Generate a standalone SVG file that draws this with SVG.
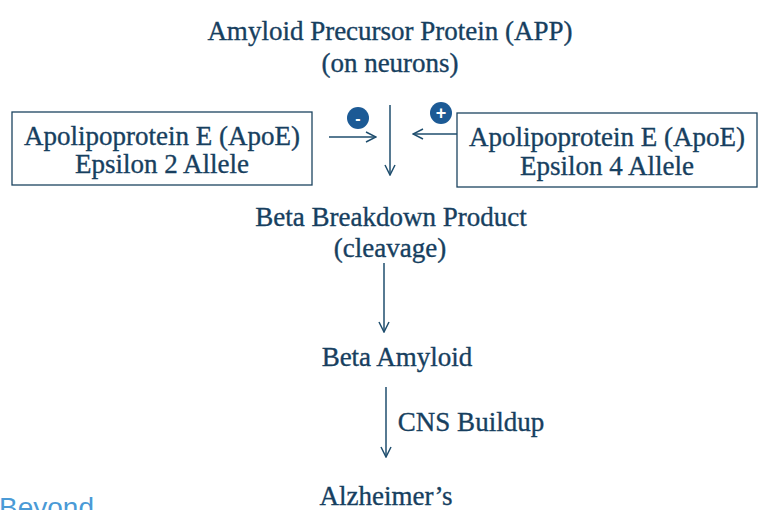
<svg xmlns="http://www.w3.org/2000/svg" width="774" height="510" viewBox="0 0 774 510">
<style>
.t{font-family:"Liberation Serif","DejaVu Serif",serif;font-size:27px;fill:#173f5f;stroke:#173f5f;stroke-width:0.35;text-anchor:middle}
.box{fill:#fff;stroke:#1c4460;stroke-width:1.3}
.c{stroke:#1f4e6e;stroke-width:1.5;fill:none}
.sign{font-family:"Liberation Sans",Arial,sans-serif;font-weight:bold;fill:#fff;text-anchor:middle}
</style>
<defs>
<marker id="ah" viewBox="0 0 12 12" refX="11" refY="6" markerWidth="12" markerHeight="12" markerUnits="userSpaceOnUse" orient="auto">
<path d="M1,1 L11,6 L1,11" fill="none" stroke="#1f4e6e" stroke-width="1.5"/>
</marker>
</defs>
<rect width="774" height="510" fill="#fff"/>
<g id="app">
<text class="t" x="390" y="40">Amyloid Precursor Protein (APP)</text>
<text class="t" x="390" y="72">(on neurons)</text>
</g>
<g id="apoe2">
<rect class="box" x="12" y="112" width="300" height="73"/>
<text class="t" x="162" y="145">Apolipoprotein E (ApoE)</text>
<text class="t" x="162" y="173">Epsilon 2 Allele</text>
</g>
<g id="apoe4">
<rect class="box" x="457" y="113" width="300" height="74"/>
<text class="t" x="607" y="146">Apolipoprotein E (ApoE)</text>
<text class="t" x="607" y="175">Epsilon 4 Allele</text>
</g>
<g id="breakdown">
<text class="t" x="391" y="226">Beta Breakdown Product</text>
<text class="t" x="390" y="257">(cleavage)</text>
</g>
<g id="amyloid">
<text class="t" x="397" y="366">Beta Amyloid</text>
</g>
<g id="alz">
<text class="t" x="386" y="505">Alzheimer’s</text>
</g>
<g id="connectors">
<line class="c" x1="329" y1="137" x2="376" y2="137" marker-end="url(#ah)"/>
<line class="c" x1="390" y1="105" x2="390" y2="175" marker-end="url(#ah)"/>
<line class="c" x1="457" y1="134" x2="413" y2="134" marker-end="url(#ah)"/>
<line class="c" x1="384" y1="263" x2="384" y2="332" marker-end="url(#ah)"/>
<line class="c" x1="386" y1="387" x2="386" y2="457" marker-end="url(#ah)"/>
<text class="t" x="471" y="431">CNS Buildup</text>
</g>
<g id="minus">
<circle cx="358" cy="118" r="11" fill="#1c5a95"/>
<text class="sign" x="358" y="123.5" font-size="16">-</text>
</g>
<g id="plus">
<circle cx="441" cy="113" r="11" fill="#1c5a95"/>
<text class="sign" x="441" y="119" font-size="18">+</text>
</g>
<text x="-1" y="517" font-family="Liberation Sans,Arial,sans-serif" font-size="28" fill="#4a9ad6">Beyond</text>
</svg>
